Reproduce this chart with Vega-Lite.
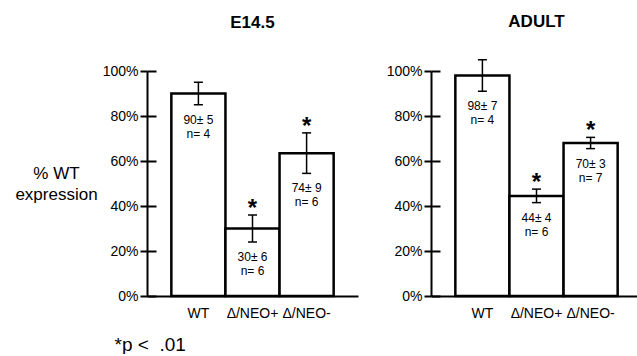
{
  "$schema": "https://vega.github.io/schema/vega-lite/v6.json",
  "background": "white",
  "padding": {"left": 14, "top": 12, "right": 0, "bottom": 0},
  "autosize": {"type": "pad"},
  "bounds": "flush",
  "spacing": 73,
  "data": {
    "values": [
      {"stage": "E14.5", "genotype": "WT", "mean": 90, "lo": 85, "hi": 95, "label": "90± 5\nn= 4", "star": ""},
      {"stage": "E14.5", "genotype": "Δ/NEO+", "mean": 30, "lo": 24, "hi": 36, "label": "30± 6\nn= 6", "star": "*"},
      {"stage": "E14.5", "genotype": "Δ/NEO-", "mean": 63.5, "lo": 54.5, "hi": 72.5, "label": "74± 9\nn= 6", "star": "*"},
      {"stage": "ADULT", "genotype": "WT", "mean": 98, "lo": 91, "hi": 105, "label": "98± 7\nn= 4", "star": ""},
      {"stage": "ADULT", "genotype": "Δ/NEO+", "mean": 44.5, "lo": 41.5, "hi": 47.5, "label": "44± 4\nn= 6", "star": "*"},
      {"stage": "ADULT", "genotype": "Δ/NEO-", "mean": 68, "lo": 65.5, "hi": 70.5, "label": "70± 3\nn= 7", "star": "*"}
    ]
  },
  "hconcat": [
    {
      "width": 211,
      "height": 225,
      "title": {"text": "E14.5", "fontSize": 17, "fontWeight": "bold", "anchor": "middle", "frame": "group", "baseline": "top", "offset": 32, "color": "black"},
      "transform": [{"filter": "datum.stage === 'E14.5'"}],
      "encoding": {
        "x": {
          "field": "genotype", "type": "nominal", "sort": ["WT", "Δ/NEO+", "Δ/NEO-"],
          "scale": {"paddingInner": 0, "paddingOuter": 0.45},
          "axis": {
            "labelAngle": 0, "labelFontSize": 14, "labelColor": "black", "ticks": false, "tickSize": 0, "labelPadding": 10,
            "domainColor": "black", "domainWidth": 2,
            "title": "*p <\u00a0 .01", "titleFontSize": 19, "titleFontWeight": "normal", "titleColor": "black",
            "titleX": -33, "titleY": 54, "titleAlign": "left", "titleBaseline": "alphabetic"
          }
        }
      },
      "layer": [
        {
          "mark": {"type": "bar", "fill": "white", "stroke": "black", "strokeWidth": 2.5, "opacity": 1},
          "encoding": {
            "y": {
              "field": "mean", "type": "quantitative", "scale": {"domain": [0, 100], "nice": false},
              "axis": {
                "orient": "left", "values": [0, 20, 40, 60, 80, 100], "labelExpr": "datum.value + '%'",
                "labelFontSize": 14, "labelColor": "black", "labelPadding": 2,
                "tickSize": 7, "tickColor": "black", "tickWidth": 2, "domainColor": "black", "domainWidth": 2, "grid": false,
                "title": ["% WT", "expression"], "titleFontSize": 17, "titleFontWeight": "normal", "titleColor": "black",
                "titleAngle": 0, "titleX": -91, "titleY": 102, "titleAlign": "center", "titleBaseline": "middle", "titleLineHeight": 21
              }
            }
          }
        },
        {
          "mark": {"type": "rule", "color": "black", "strokeWidth": 1.5, "opacity": 1},
          "encoding": {
            "y": {
              "field": "lo", "type": "quantitative", "scale": {"domain": [0, 100], "nice": false},
              "axis": {"orient": "left", "values": [0, 20, 40, 60, 80, 100], "labels": false, "domain": false, "grid": false, "tickSize": -9, "tickColor": "black", "tickWidth": 2, "title": null}
            },
            "y2": {"field": "hi"}
          }
        },
        {
          "mark": {"type": "tick", "color": "black", "thickness": 1.5, "size": 9, "opacity": 1},
          "encoding": {"y": {"field": "hi", "type": "quantitative", "scale": {"domain": [0, 100], "nice": false}, "axis": null}}
        },
        {
          "mark": {"type": "tick", "color": "black", "thickness": 1.5, "size": 9, "opacity": 1},
          "encoding": {"y": {"field": "lo", "type": "quantitative", "scale": {"domain": [0, 100], "nice": false}, "axis": null}}
        },
        {
          "mark": {"type": "text", "color": "black", "baseline": "top", "dy": 10, "fontSize": 12, "lineBreak": "\n", "lineHeight": 14},
          "encoding": {
            "y": {"field": "lo", "type": "quantitative", "scale": {"domain": [0, 100], "nice": false}, "axis": null},
            "text": {"field": "label"}
          }
        },
        {
          "transform": [{"filter": "datum.star !== ''"}],
          "mark": {"type": "text", "color": "black", "baseline": "alphabetic", "dy": 1, "fontSize": 24, "fontWeight": "bold"},
          "encoding": {
            "y": {"field": "hi", "type": "quantitative", "scale": {"domain": [0, 100], "nice": false}, "axis": null},
            "text": {"field": "star"}
          }
        }
      ],
      "resolve": {"axis": {"y": "independent"}}
    },
    {
      "width": 211,
      "height": 225,
      "title": {"text": "ADULT", "fontSize": 17, "fontWeight": "bold", "anchor": "middle", "frame": "group", "baseline": "top", "offset": 28, "color": "black"},
      "transform": [{"filter": "datum.stage === 'ADULT'"}],
      "encoding": {
        "x": {
          "field": "genotype", "type": "nominal", "sort": ["WT", "Δ/NEO+", "Δ/NEO-"],
          "scale": {"paddingInner": 0, "paddingOuter": 0.45},
          "axis": {
            "labelAngle": 0, "labelFontSize": 14, "labelColor": "black", "ticks": false, "tickSize": 0, "labelPadding": 10,
            "domainColor": "black", "domainWidth": 2, "title": null
          }
        }
      },
      "layer": [
        {
          "mark": {"type": "bar", "fill": "white", "stroke": "black", "strokeWidth": 2.5, "opacity": 1},
          "encoding": {
            "y": {
              "field": "mean", "type": "quantitative", "scale": {"domain": [0, 100], "nice": false},
              "axis": {
                "orient": "left", "values": [0, 20, 40, 60, 80, 100], "labelExpr": "datum.value + '%'",
                "labelFontSize": 14, "labelColor": "black", "labelPadding": 2,
                "tickSize": 7, "tickColor": "black", "tickWidth": 2, "domainColor": "black", "domainWidth": 2, "grid": false,
                "title": null
              }
            }
          }
        },
        {
          "mark": {"type": "rule", "color": "black", "strokeWidth": 1.5, "opacity": 1},
          "encoding": {
            "y": {
              "field": "lo", "type": "quantitative", "scale": {"domain": [0, 100], "nice": false},
              "axis": {"orient": "left", "values": [0, 20, 40, 60, 80, 100], "labels": false, "domain": false, "grid": false, "tickSize": -9, "tickColor": "black", "tickWidth": 2, "title": null}
            },
            "y2": {"field": "hi"}
          }
        },
        {
          "mark": {"type": "tick", "color": "black", "thickness": 1.5, "size": 9, "opacity": 1},
          "encoding": {"y": {"field": "hi", "type": "quantitative", "scale": {"domain": [0, 100], "nice": false}, "axis": null}}
        },
        {
          "mark": {"type": "tick", "color": "black", "thickness": 1.5, "size": 9, "opacity": 1},
          "encoding": {"y": {"field": "lo", "type": "quantitative", "scale": {"domain": [0, 100], "nice": false}, "axis": null}}
        },
        {
          "mark": {"type": "text", "color": "black", "baseline": "top", "dy": 10, "fontSize": 12, "lineBreak": "\n", "lineHeight": 14},
          "encoding": {
            "y": {"field": "lo", "type": "quantitative", "scale": {"domain": [0, 100], "nice": false}, "axis": null},
            "text": {"field": "label"}
          }
        },
        {
          "transform": [{"filter": "datum.star !== ''"}],
          "mark": {"type": "text", "color": "black", "baseline": "alphabetic", "dy": 1, "fontSize": 24, "fontWeight": "bold"},
          "encoding": {
            "y": {"field": "hi", "type": "quantitative", "scale": {"domain": [0, 100], "nice": false}, "axis": null},
            "text": {"field": "star"}
          }
        }
      ],
      "resolve": {"axis": {"y": "independent"}}
    }
  ],
  "config": {
    "font": "Liberation Sans",
    "view": {"stroke": null},
    "axis": {"labelFont": "Liberation Sans", "titleFont": "Liberation Sans"},
    "title": {"font": "Liberation Sans"}
  }
}
